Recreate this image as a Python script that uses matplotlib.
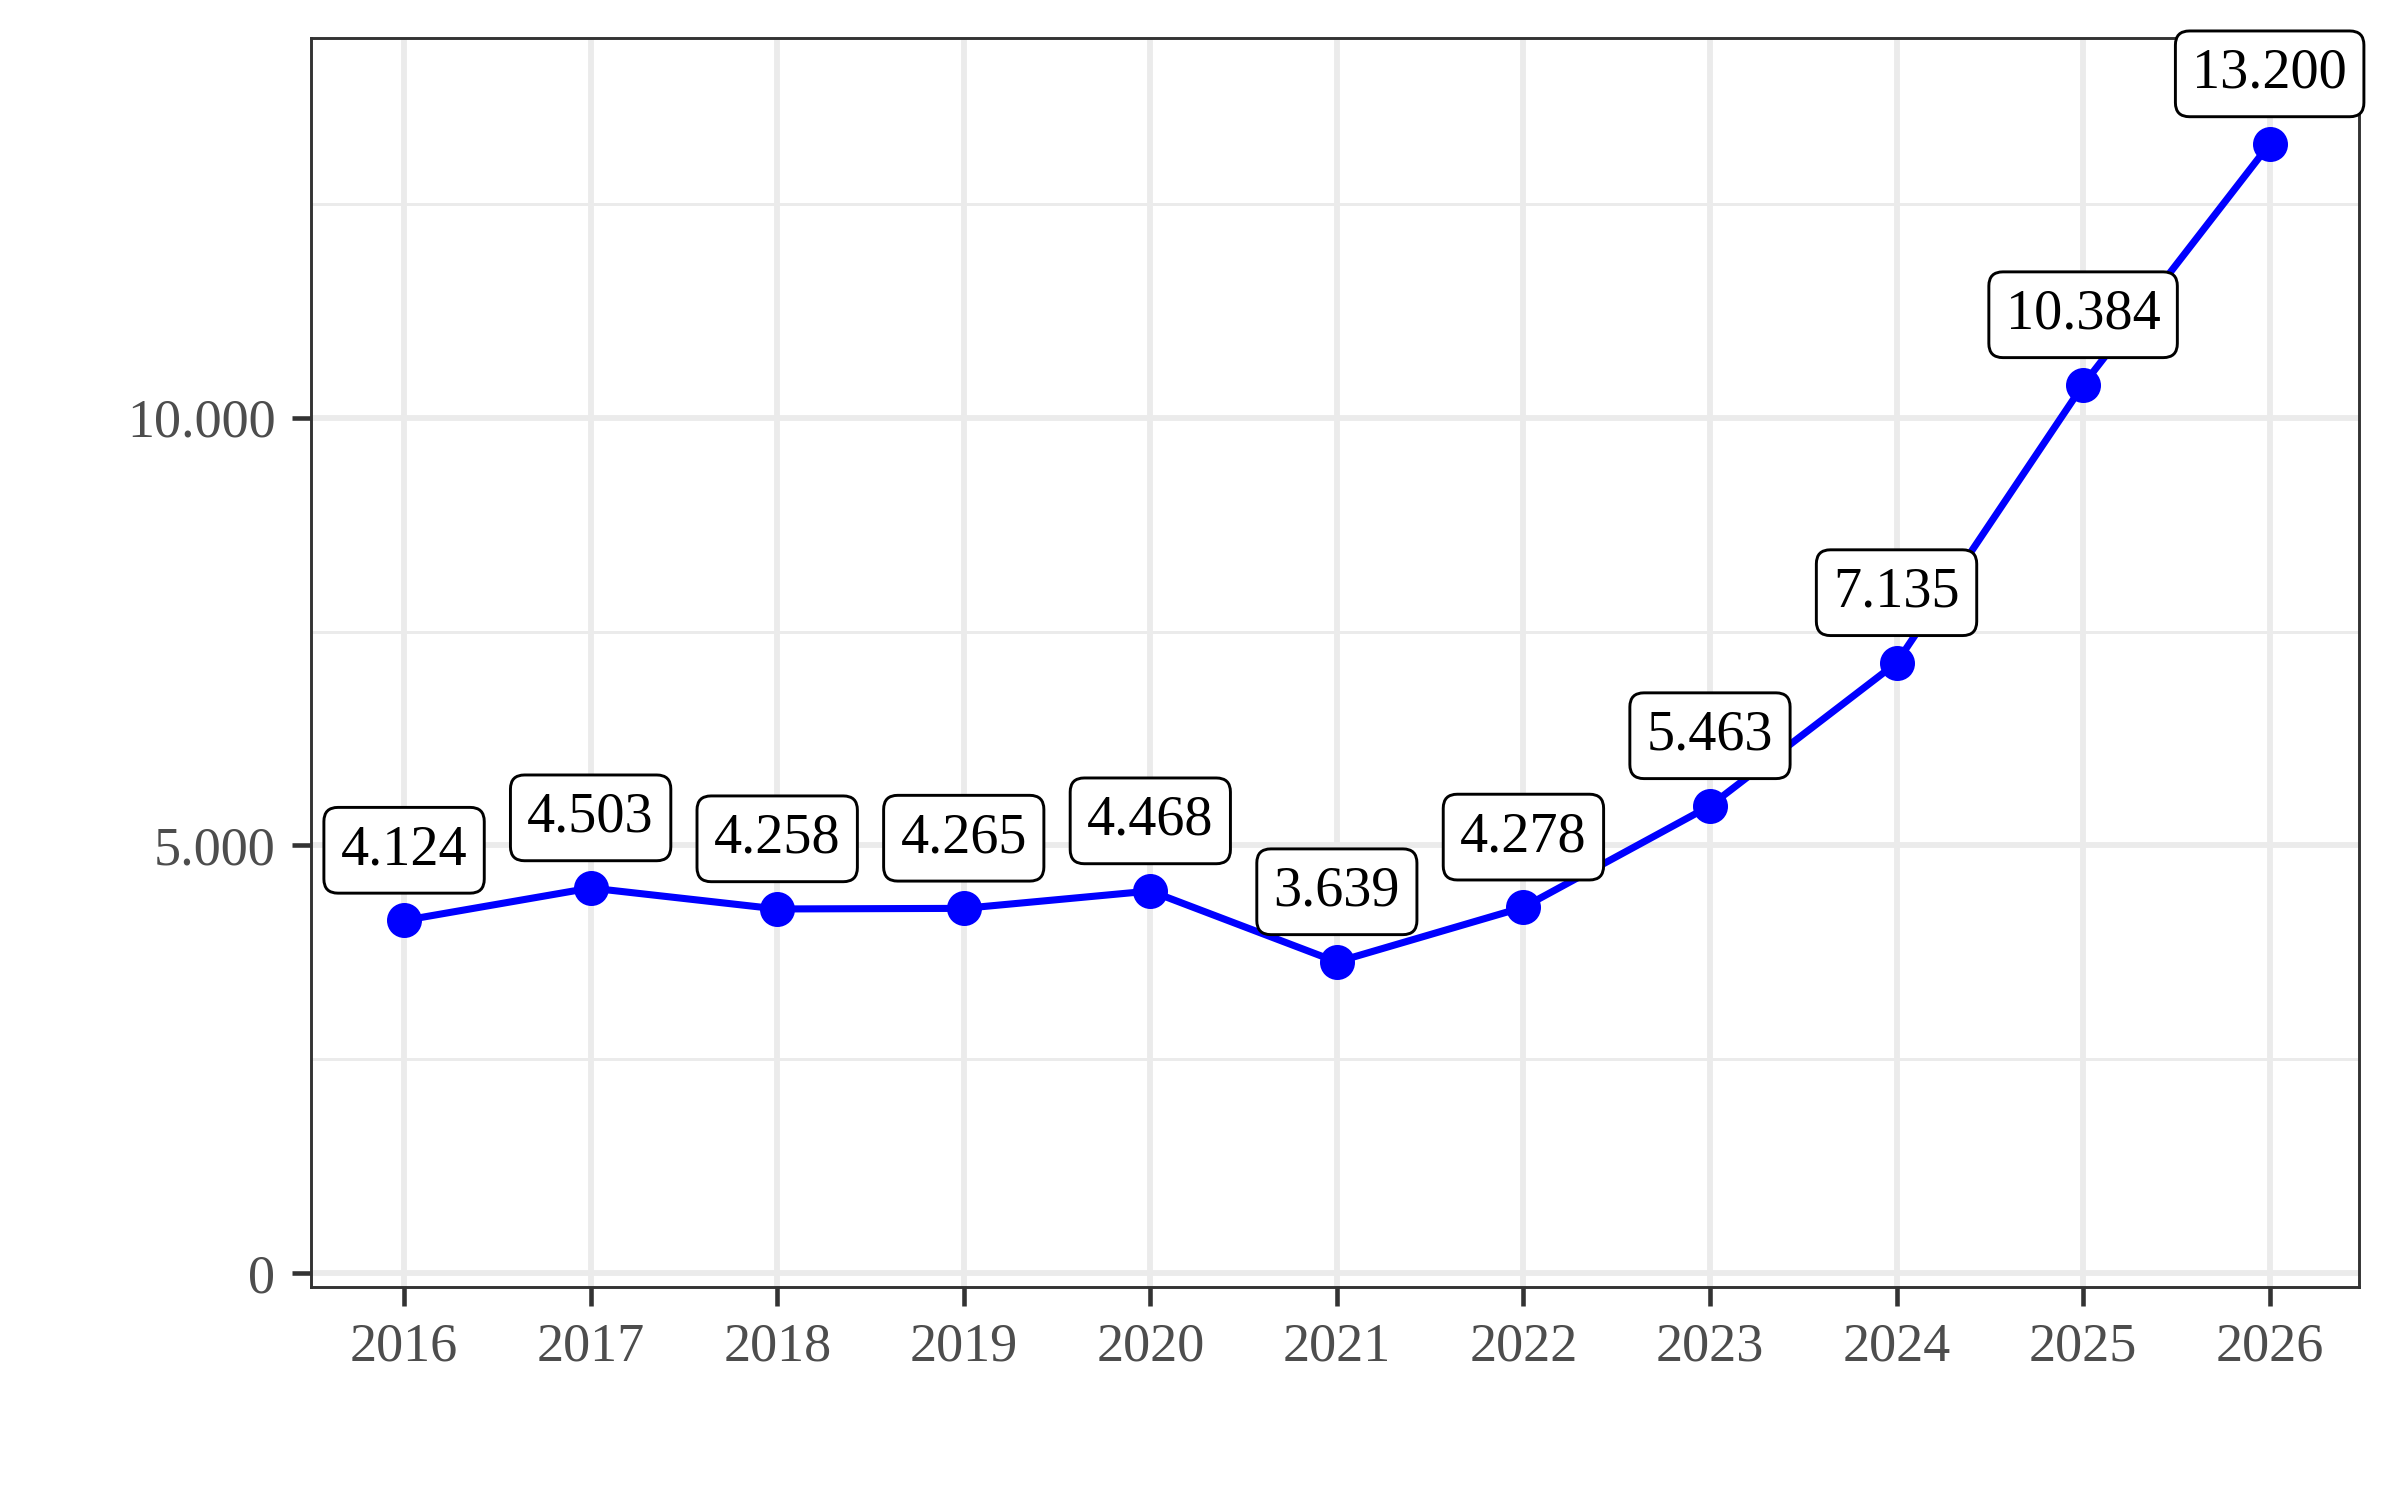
import matplotlib.pyplot as plt
import matplotlib.ticker as mticker
import numpy as np

years = [2016, 2017, 2018, 2019, 2020, 2021, 2022, 2023, 2024, 2025, 2026]
values = [4124, 4503, 4258, 4265, 4468, 3639, 4278, 5463, 7135, 10384, 13200]
y_ticks = [0, 5000, 10000]
y_minor = [2500, 7500, 12500]


def fmt_de(v, pos=None):
    # punto come separatore delle migliaia
    return f"{int(round(v)):,}".replace(",", ".")


plt.rcParams['font.family'] = ['Liberation Serif', 'DejaVu Serif']

fig = plt.figure(figsize=(8, 5), dpi=300)
ax = fig.add_axes([0.1295, 0.142, 0.8535, 0.8325])

ax.set_xlim(2015.5, 2026.48)
ax.set_ylim(-161, 14436)

ax.set_yticks(y_ticks)
ax.set_yticks(y_minor, minor=True)
ax.set_xticks(years)
ax.yaxis.set_major_formatter(mticker.FuncFormatter(fmt_de))

ax.grid(which='major', color='#EBEBEB', linewidth=1.4)
ax.grid(which='minor', axis='y', color='#EBEBEB', linewidth=0.7)
ax.set_axisbelow(True)

for s in ax.spines.values():
    s.set_color('#333333')
    s.set_linewidth(0.7)

ax.tick_params(which='major', length=4.5, width=1.1, color='#333333',
               labelcolor='#4D4D4D', labelsize=13, pad=4)
ax.tick_params(which='minor', length=0)

ax.plot(years, values, color='blue', linewidth=1.7, marker='o',
        markersize=7.4, zorder=3)

offset = 820
for x, v in zip(years, values):
    ax.text(x, v + offset, fmt_de(v), ha='center', va='center', fontsize=13.5,
            color='black', zorder=4,
            bbox=dict(boxstyle='round,pad=0.3,rounding_size=0.25',
                      facecolor='white', edgecolor='black', linewidth=0.7))

fig.savefig('out.png', dpi=300)
